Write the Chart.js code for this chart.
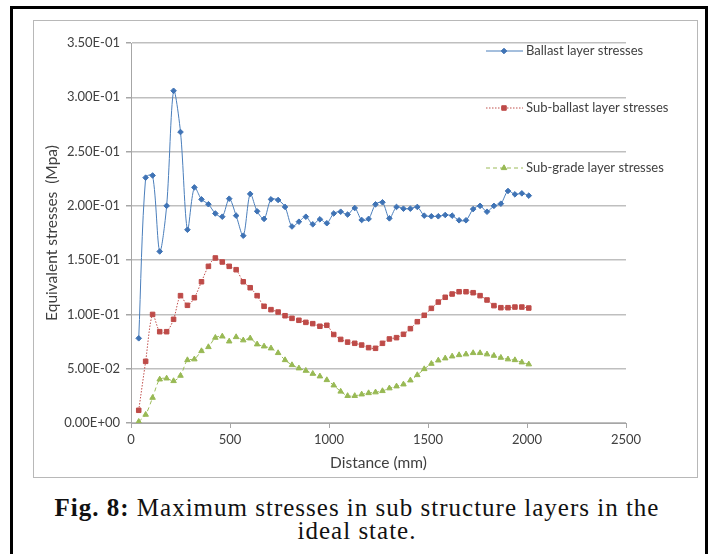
<!DOCTYPE html>
<html>
<head>
<meta charset="utf-8">
<script src="https://cdn.jsdelivr.net/npm/chart.js@4.4.1/dist/chart.umd.min.js"></script>
<style>
  html, body { margin: 0; padding: 0; background: #fff; overflow: hidden; }
  body { width: 710px; height: 554px; position: relative; }
  #frame { position: absolute; left: 10px; top: 6px; width: 692px; height: 560px; border: 3px solid #000; }
  #box { position: absolute; left: 33px; top: 20px; width: 663px; height: 456px; border: 1px solid #b8b8b8; }
  #box canvas { position: absolute; left: 0; top: 0; }
  #caption { position: absolute; left: 12px; width: 690px; top: 496px; text-align: center;
    font-family: "Liberation Serif", serif; font-size: 25px; letter-spacing: 1px; line-height: 23px; color: #111; }
</style>
</head>
<body>
<div id="frame"></div>
<div id="box"><canvas id="chart" width="663" height="456"></canvas></div>
<div id="caption"><b>Fig. 8:</b> Maximum stresses in sub structure layers in the<br>ideal state.</div>
<script>
// distance along the track (mm)
var distance = [39, 74, 109, 145, 180, 215, 250, 285, 320, 356, 391, 426, 461, 496, 531, 567, 602, 637, 672, 707,
  743, 778, 813, 848, 883, 918, 954, 989, 1024, 1059, 1094, 1130, 1165, 1200, 1235, 1270, 1305, 1341, 1376, 1411,
  1446, 1481, 1517, 1552, 1587, 1622, 1657, 1692, 1728, 1763, 1798, 1833, 1868, 1904, 1939, 1974, 2009];

var ballast = [0.078, 0.226, 0.228, 0.158, 0.200, 0.306, 0.268, 0.178, 0.217, 0.206, 0.2015, 0.193, 0.190, 0.2066,
  0.191, 0.1725, 0.211, 0.195, 0.188, 0.206, 0.2054, 0.199, 0.181, 0.1854, 0.190, 0.183, 0.1876, 0.184, 0.193,
  0.1946, 0.192, 0.198, 0.187, 0.188, 0.2014, 0.2033, 0.1885, 0.199, 0.1974, 0.1974, 0.199, 0.191, 0.1904, 0.1904,
  0.1916, 0.191, 0.1867, 0.1867, 0.197, 0.200, 0.1946, 0.200, 0.202, 0.2137, 0.2106, 0.2115, 0.2094];

var subBallast = [0.0117, 0.0568, 0.1000, 0.0841, 0.0841, 0.0955, 0.1173, 0.1084, 0.1154, 0.1301, 0.1443, 0.1520,
  0.1483, 0.1443, 0.1412, 0.1301, 0.1246, 0.1173, 0.1075, 0.1044, 0.1022, 0.0988, 0.0964, 0.0946, 0.0927, 0.0915,
  0.0891, 0.0900, 0.0815, 0.0770, 0.0745, 0.0734, 0.0718, 0.0694, 0.0688, 0.0734, 0.0774, 0.0786, 0.0817, 0.0869,
  0.0933, 0.0992, 0.1056, 0.1114, 0.1158, 0.1188, 0.1209, 0.1209, 0.1200, 0.1173, 0.1133, 0.1081, 0.1062, 0.1062,
  0.1068, 0.1068, 0.1059];

var subGrade = [0.0012, 0.0077, 0.0233, 0.0402, 0.0411, 0.0387, 0.0436, 0.0580, 0.0587, 0.0663, 0.0700, 0.0786,
  0.0798, 0.0752, 0.0792, 0.0762, 0.0780, 0.0725, 0.0706, 0.0688, 0.0645, 0.0580, 0.0534, 0.0504, 0.0482, 0.0454,
  0.0430, 0.0396, 0.0347, 0.0290, 0.0250, 0.0250, 0.0264, 0.0276, 0.0283, 0.0295, 0.0320, 0.0338, 0.0356, 0.0393,
  0.0442, 0.0497, 0.0546, 0.0577, 0.0596, 0.0614, 0.0626, 0.0633, 0.0645, 0.0645, 0.0633, 0.0620, 0.0602, 0.0587,
  0.0580, 0.0559, 0.0541];

var seriesNames = ['Ballast layer stresses', 'Sub-ballast layer stresses', 'Sub-grade layer stresses'];

function pts(vals) {
  return vals.map(function (v, i) { return { x: distance[i], y: v }; });
}

function sci(v) {
  if (Math.abs(v) < 1e-12) return '0.00E+00';
  var e = Math.floor(Math.log10(Math.abs(v)) + 1e-9);
  var m = v / Math.pow(10, e);
  var es = (e < 0 ? '-' : '+') + (Math.abs(e) < 10 ? '0' : '') + Math.abs(e);
  return m.toFixed(2) + 'E' + es;
}

var font = 'Lato';
var txt = '#404040';

// legend drawn inside the plot, like the excel one
var legendPlugin = {
  id: 'sideLegend',
  afterDatasetsDraw: function (chart) {
    var ctx = chart.ctx;
    var ys = [30, 87, 147];
    chart.data.datasets.forEach(function (ds, i) {
      var y = ys[i];
      ctx.save();
      ctx.strokeStyle = ds.borderColor;
      ctx.lineWidth = 1;
      ctx.setLineDash(ds.borderDash || []);
      ctx.beginPath();
      ctx.moveTo(452, y);
      ctx.lineTo(489, y);
      ctx.stroke();
      ctx.setLineDash([]);
      ctx.fillStyle = ds.pointBackgroundColor;
      ctx.strokeStyle = ds.pointBackgroundColor;
      Chart.helpers.drawPoint(ctx, { pointStyle: ds.pointStyle, radius: ds.pointRadius, rotation: 0, borderWidth: 1 }, 470, y);
      ctx.fillStyle = txt;
      ctx.font = '13px ' + font;
      ctx.textBaseline = 'middle';
      ctx.fillText(ds.label, 492, y);
      ctx.restore();
    });
  }
};

new Chart(document.getElementById('chart'), {
  type: 'scatter',
  data: {
    datasets: [{
      label: seriesNames[0],
      data: pts(ballast),
      showLine: true,
      borderColor: '#4a7ebb',
      backgroundColor: '#4a7ebb',
      pointBackgroundColor: '#3f73b5',
      pointBorderColor: '#3f73b5',
      pointStyle: 'rectRot',
      pointRadius: 2.8,
      borderWidth: 1,
      tension: 0.3
    }, {
      label: seriesNames[1],
      data: pts(subBallast),
      showLine: true,
      borderColor: '#c0504d',
      backgroundColor: '#c0504d',
      pointBackgroundColor: '#be4b48',
      pointBorderColor: '#be4b48',
      pointStyle: 'rect',
      pointRadius: 3.2,
      borderWidth: 1,
      borderDash: [1.5, 1.5],
      tension: 0.3
    }, {
      label: seriesNames[2],
      data: pts(subGrade),
      showLine: true,
      borderColor: '#9bbb59',
      backgroundColor: '#9bbb59',
      pointBackgroundColor: '#98b954',
      pointBorderColor: '#98b954',
      pointStyle: 'triangle',
      pointRadius: 3.2,
      borderWidth: 1,
      borderDash: [4, 3],
      tension: 0.3
    }]
  },
  options: {
    responsive: false,
    animation: false,
    layout: { padding: { left: 0, top: 22, right: 71, bottom: 0 } },
    plugins: { legend: { display: false }, tooltip: { enabled: false } },
    scales: {
      x: {
        type: 'linear',
        min: 0, max: 2500,
        ticks: { stepSize: 500, color: txt, font: { family: font, size: 13 }, padding: 4, callback: function (v) { return String(v); } },
        grid: { color: 'rgba(0,0,0,0)', tickColor: '#a6a6a6', tickLength: 5, drawOnChartArea: false },
        border: { color: '#a6a6a6', width: 1 },
        title: { display: true, text: 'Distance (mm)', color: txt, font: { family: font, size: 15.5 }, padding: { top: 0, bottom: 5 } },
        afterFit: function (s) { s.height = 54; }
      },
      y: {
        min: 0, max: 0.35,
        ticks: { stepSize: 0.05, color: txt, font: { family: font, size: 13 }, padding: 6, callback: function (v) { return sci(v); } },
        grid: { color: '#bfbfbf', lineWidth: 1.5, tickColor: '#a6a6a6', tickLength: 5 },
        border: { color: '#a6a6a6', width: 1 },
        title: { display: true, text: 'Equivalent stresses  (Mpa)', color: txt, font: { family: font, size: 15.5 }, padding: { top: 9, bottom: 0 } },
        afterFit: function (s) { s.width = 97; }
      }
    }
  },
  plugins: [legendPlugin]
});
</script>
</body>
</html>
